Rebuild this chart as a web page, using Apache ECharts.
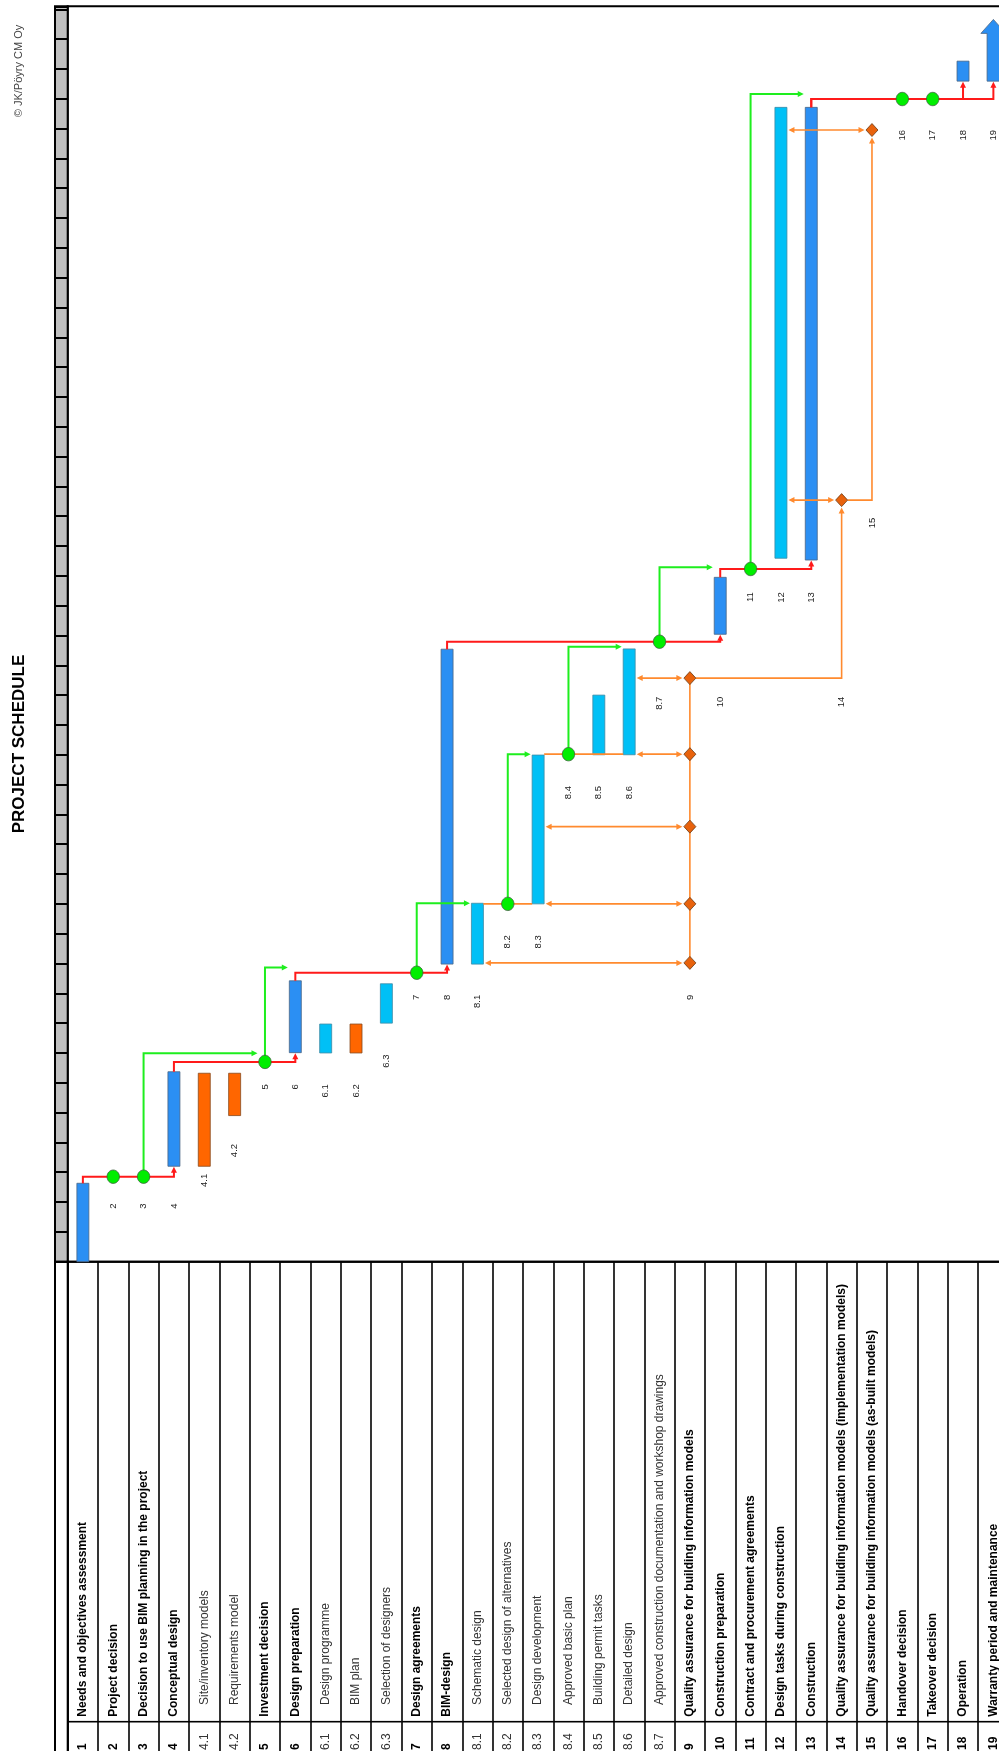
<!DOCTYPE html>
<html>
<head>
<meta charset="utf-8">
<script src="https://cdn.jsdelivr.net/npm/echarts/dist/echarts.min.js"></script>
<style>
html,body{margin:0;padding:0;overflow:hidden;background:#fff;width:999px;height:1751px;}
#c{position:absolute;left:0;top:0;width:1012px;height:1775px;}
</style>
</head>
<body>
<div id="c"></div>
<script>
// ---------- DATA ----------
const rowIds = ['1','2','3','4','4.1','4.2','5','6','6.1','6.2','6.3','7','8','8.1','8.2','8.3','8.4','8.5','8.6','8.7','9','10','11','12','13','14','15','16','17','18','19'];
const rowNames = ['Needs and objectives assessment','Project decision','Decision to use BIM planning in the project','Conceptual design','Site/inventory models','Requirements model','Investment decision','Design preparation','Design programme','BIM plan','Selection of designers','Design agreements','BIM-design','Schematic design','Selected design of alternatives','Design development','Approved basic plan','Building permit tasks','Detailed design','Approved construction documentation and workshop drawings','Quality assurance for building information models','Construction preparation','Contract and procurement agreements','Design tasks during construction','Construction','Quality assurance for building information models (implementation models)','Quality assurance for building information models (as-built models)','Handover decision','Takeover decision','Operation','Warranty period and maintenance'];

// task bars (time in schedule units, bottom = start)
const barRows  = ['1','4','4.1','4.2','6','6.1','6.2','6.3','8','8.1','8.3','8.5','8.6','10','12','13','18','19'];
const barStart = [0, 3.2, 3.2, 4.9, 7.01, 7.0, 7.0, 8.0, 9.98, 9.98, 12.0, 17.0, 17.0, 21.04, 23.59, 23.53, 39.59, 39.59];
const barEnd   = [2.63, 6.37, 6.32, 6.32, 9.42, 7.97, 7.97, 9.32, 20.54, 12.02, 16.99, 19.0, 20.55, 22.95, 38.71, 38.71, 40.26, 41.66];
const barKind  = ['phase','phase','model','model','phase','task','model','task','phase','task','task','task','task','phase','task','phase','phase','ongoing'];

// decision milestones
const milestoneRows  = ['2','3','5','7','8.2','8.4','8.7','11','16','17'];
const milestoneTimes = [2.85, 2.85, 6.70, 9.69, 12.0, 17.02, 20.79, 23.23, 38.99, 38.99];

// quality assurance checkpoints
const qaRows  = ['9','9','9','9','9','14','15'];
const qaTimes = [10.02, 12.0, 14.59, 17.02, 19.57, 25.54, 37.95];

// critical path (red)
const pathFrom  = ['1','4','6','8','10','13','13'];
const pathTo    = ['4','6','8','10','13','18','19'];
const pathLevel = [2.85, 6.70, 9.69, 20.79, 23.23, 38.99, 38.99];

// decision links (green)
const decisionFrom  = ['3','5','7','8.2','8.4','8.7','11'];
const decisionTo    = ['5','6','8.1','8.3','8.6','10','13'];
const decisionLevel = [6.99, 9.87, 12.02, 17.02, 20.62, 23.29, 39.16];

// QA review arrows (orange, double headed)
const reviewFrom = ['8.1','8.3','8.3','8.6','8.6','12','12'];
const reviewTo   = ['9','9','9','9','9','14','15'];
const reviewTime = [10.02, 12.0, 14.59, 17.02, 19.57, 25.54, 37.95];

// orange sequence lines
const seqFrom = ['8.1','8.3'];
const seqTo   = ['8.3','8.6'];
const seqTime = [12.0, 17.02];

// orange escalation links between QA checkpoints
const escFrom     = ['9','14'];
const escFromTime = [19.57, 25.54];
const escTo       = ['14','15'];
const escToTime   = [25.54, 37.95];

// chart labels (row id shown near its mark; time = top end of label)
const labelRows  = ['2','3','4','4.1','4.2','5','6','6.1','6.2','6.3','7','8','8.1','9','8.2','8.3','8.4','8.5','8.6','8.7','10','14','11','12','13','15','16','17','18','19'];
const labelTimes = [2,2,2,3,4,6,6,6,6,7,9,9,9,9,11,11,16,16,16,19,19,19,22.5,22.5,22.5,25,38,38,38,38];

const timeMax = 42.1;

// ---------- LAYOUT ----------
const ROW_W = 30.35, UNIT = 29.82;
const GX = 67.7, SX = 55, TABLE_TOP = 1261.7, TABLE_H = 500;
const GH = timeMax * UNIT, GTOP = TABLE_TOP - GH;
const FONT = '"Liberation Sans", Arial, Helvetica, sans-serif';
const BAR_W = 12;
const ri = id => rowIds.indexOf(id);

const FILL = {phase:'#2b8ff3', task:'#00c0f6', model:'#ff6600', ongoing:'#2b8ff3'};
const EDGE = {phase:'#4b6684', task:'#3c8aa4', model:'#874a1e', ongoing:'#4b6684'};
const RED = '#ff1a1a', GREEN = '#1eee1e', ORANGE = '#ff8a2e';

function tri(tip, dir, color, len, hw) {
  len = len || 6; hw = hw || 3;
  const [x, y] = tip; let pts;
  if (dir === 'up') pts = [[x, y], [x - hw, y + len], [x + hw, y + len]];
  else if (dir === 'right') pts = [[x, y], [x - len, y - hw], [x - len, y + hw]];
  else pts = [[x, y], [x + len, y - hw], [x + len, y + hw]];
  return {type: 'polygon', shape: {points: pts}, style: {fill: color}};
}
function line(pts, color, w) {
  return {type: 'polyline', shape: {points: pts}, style: {stroke: color, lineWidth: w || 2, fill: null}};
}
function txt(x, y, text, opt) {
  return {type: 'text', x: x, y: y, rotation: Math.PI / 2,
    style: {text: text, x: 0, y: 0, fill: opt.color, font: opt.font,
      align: opt.align, verticalAlign: 'middle', textAlign: opt.align, textVerticalAlign: 'middle'}};
}

// ---------- RENDERERS ----------
function renderBar(params, api) {
  const k = params.dataIndex;
  const b = api.coord([api.value(0), api.value(1)]);
  const t = api.coord([api.value(0), api.value(2)]);
  const kind = barKind[k];
  const cx = b[0], yb = b[1], yt = t[1];
  const st = {fill: FILL[kind], stroke: EDGE[kind], lineWidth: 0.8};
  if (kind === 'ongoing') {
    const headH = 14, bw = BAR_W / 2 + 0.3, hw = 12.5;
    return {type: 'polygon', shape: {points: [[cx - bw, yb], [cx - bw, yt + headH], [cx - hw, yt + headH], [cx, yt], [cx + hw, yt + headH], [cx + bw, yt + headH], [cx + bw, yb]]}, style: st};
  }
  return {type: 'rect', shape: {x: cx - BAR_W / 2, y: yt, width: BAR_W, height: yb - yt}, style: st};
}

function renderPath(params, api) {
  const i = params.dataIndex;
  const fb = barRows.indexOf(pathFrom[i]), tb = barRows.indexOf(pathTo[i]);
  const a = api.coord([ri(pathFrom[i]), barEnd[fb]]);
  const b = api.coord([ri(pathFrom[i]), pathLevel[i]]);
  const c = api.coord([ri(pathTo[i]), pathLevel[i]]);
  const d = api.coord([ri(pathTo[i]), barStart[tb]]);
  return {type: 'group', children: [
    line([a, b, c, [c[0], d[1] + 5]], RED, 2),
    tri([d[0], d[1] + 0.5], 'up', RED, 6, 3)
  ]};
}

function renderDecision(params, api) {
  const i = params.dataIndex;
  const m = milestoneRows.indexOf(decisionFrom[i]);
  const a = api.coord([ri(decisionFrom[i]), milestoneTimes[m]]);
  const b = api.coord([ri(decisionFrom[i]), decisionLevel[i]]);
  const c = api.coord([ri(decisionTo[i]), decisionLevel[i]]);
  const endX = c[0] - BAR_W / 2 - 1.5;
  return {type: 'group', children: [
    line([a, b, [endX - 5, b[1]]], GREEN, 2),
    tri([endX, b[1]], 'right', GREEN, 6, 3)
  ]};
}

function renderReview(params, api) {
  const i = params.dataIndex;
  const a = api.coord([ri(reviewFrom[i]), reviewTime[i]]);
  const b = api.coord([ri(reviewTo[i]), reviewTime[i]]);
  const x1 = a[0] + BAR_W / 2 + 1.5, x2 = b[0] - 7.5;
  return {type: 'group', children: [
    line([[x1 + 4, a[1]], [x2 - 4, a[1]]], ORANGE, 1.6),
    tri([x1, a[1]], 'left', ORANGE, 6, 3),
    tri([x2, a[1]], 'right', ORANGE, 6, 3)
  ]};
}

function renderSeq(params, api) {
  const i = params.dataIndex;
  const a = api.coord([ri(seqFrom[i]), seqTime[i]]);
  const b = api.coord([ri(seqTo[i]), seqTime[i]]);
  return line([[a[0] + BAR_W / 2, a[1]], [b[0] - BAR_W / 2, b[1]]], ORANGE, 1.6);
}

function renderSpine(params, api) {
  const row = api.value(0);
  const id = rowIds[row];
  const ts = qaTimes.filter((t, k) => qaRows[k] === id);
  const a = api.coord([row, Math.min.apply(null, ts)]);
  const b = api.coord([row, Math.max.apply(null, ts)]);
  return line([a, b], ORANGE, 1.6);
}

function renderEsc(params, api) {
  const i = params.dataIndex;
  const a = api.coord([ri(escFrom[i]), escFromTime[i]]);
  const c = api.coord([ri(escTo[i]), escToTime[i]]);
  const tipY = c[1] + 7.5;
  return {type: 'group', children: [
    line([[a[0] + 6, a[1]], [c[0], a[1]], [c[0], tipY + 5]], ORANGE, 1.6),
    tri([c[0], tipY], 'up', ORANGE, 6, 3)
  ]};
}

function renderMilestone(params, api) {
  const p = api.coord([api.value(0), api.value(1)]);
  return {type: 'ellipse', shape: {cx: p[0], cy: p[1], rx: 6.2, ry: 6.7},
    style: {fill: '#00ee00', stroke: '#3f5f3f', lineWidth: 0.8}};
}

function renderQa(params, api) {
  const p = api.coord([api.value(0), api.value(1)]);
  const w = 6, h = 6.5;
  return {type: 'polygon', shape: {points: [[p[0], p[1] - h], [p[0] + w, p[1]], [p[0], p[1] + h], [p[0] - w, p[1]]]},
    style: {fill: '#e8620c', stroke: '#6a3a14', lineWidth: 0.8}};
}

function renderLabel(params, api) {
  const i = params.dataIndex;
  const p = api.coord([api.value(0), api.value(1)]);
  return txt(p[0], p[1] + 1.5, labelRows[i], {color: '#222', font: '9.5px ' + FONT, align: 'right'});
}

function renderTable(params, api) {
  const i = api.value(0);
  const id = rowIds[i];
  const bold = id.indexOf('.') < 0;
  const half = api.size([1, 0])[0] / 2;
  const xc = api.coord([i, 0])[0];
  const yName = api.coord([i, bold ? 455 : 443.3])[1];
  const yDiv = api.coord([i, 460])[1];
  const yNum = api.coord([i, 488.3])[1];
  const f = (bold ? 'bold ' : '') + '12px ' + FONT;
  return {type: 'group', children: [
    {type: 'line', shape: {x1: xc - half, y1: yDiv, x2: xc + half, y2: yDiv}, style: {stroke: '#000', lineWidth: 1.6}},
    txt(xc, yName, rowNames[i], {color: bold ? '#000' : '#333', font: f, align: 'left'}),
    txt(xc, yNum, id, {color: bold ? '#000' : '#333', font: f, align: 'left'})
  ]};
}

// ---------- CHART ----------
const chart = echarts.init(document.getElementById('c'), null, {renderer: 'canvas'});
const hiddenVal = (g, extra) => Object.assign({gridIndex: g, type: 'value', show: false, min: 0, max: 1}, extra || {});
const gantt = (name, data, fn, z) => ({type: 'custom', name: name, xAxisIndex: 0, yAxisIndex: 0, data: data,
  renderItem: fn, z: z, silent: true, animation: false, encode: {x: 0, y: 1}});

chart.setOption({
  animation: false,
  backgroundColor: '#fff',
  grid: [
    {left: GX, top: GTOP, width: ROW_W * rowIds.length, height: GH, show: true, borderColor: '#000', borderWidth: 2, backgroundColor: 'transparent'},
    {left: SX, top: GTOP, width: GX - SX, height: GH, show: true, borderColor: '#000', borderWidth: 2, backgroundColor: '#c0c0c0'},
    {left: GX, top: TABLE_TOP, width: ROW_W * rowIds.length, height: TABLE_H, show: true, borderColor: '#000', borderWidth: 2, backgroundColor: 'transparent'},
    {left: SX, top: TABLE_TOP, width: GX - SX, height: TABLE_H, show: true, borderColor: '#000', borderWidth: 2, backgroundColor: '#fff'}
  ],
  xAxis: [
    {gridIndex: 0, type: 'category', data: rowIds, show: false, boundaryGap: true},
    hiddenVal(1),
    {gridIndex: 2, type: 'category', data: rowIds, boundaryGap: true, axisLine: {show: false}, axisTick: {show: false}, axisLabel: {show: false},
      splitLine: {show: true, interval: 0, lineStyle: {color: '#000', width: 1.6}}},
    hiddenVal(3)
  ],
  yAxis: [
    {gridIndex: 0, type: 'value', min: 0, max: timeMax, show: false},
    {gridIndex: 1, type: 'value', min: 0, max: timeMax, interval: 1, axisLine: {show: false}, axisTick: {show: false}, axisLabel: {show: false},
      splitLine: {show: true, lineStyle: {color: '#000', width: 2}}},
    {gridIndex: 2, type: 'value', min: 0, max: TABLE_H, inverse: true, show: false},
    hiddenVal(3)
  ],
  graphic: [
    {type: 'text', x: 19, y: 744, rotation: Math.PI / 2, silent: true,
      style: {text: 'PROJECT SCHEDULE', fill: '#000', font: 'bold 17px ' + FONT, align: 'center', verticalAlign: 'middle', textAlign: 'center', textVerticalAlign: 'middle'}},
    {type: 'text', x: 19, y: 71, rotation: Math.PI / 2, silent: true,
      style: {text: '© JK/Pöyry CM Oy', fill: '#444', font: '11px ' + FONT, align: 'center', verticalAlign: 'middle', textAlign: 'center', textVerticalAlign: 'middle'}}
  ],
  series: [
    gantt('bars', barRows.map((r, i) => [ri(r), barStart[i], barEnd[i]]), renderBar, 3),
    gantt('qaSeq', seqFrom.map((r, i) => [ri(r), seqTime[i]]), renderSeq, 4),
    gantt('qaSpine', [[ri('9'), qaTimes[0]]], renderSpine, 4),
    gantt('qaReview', reviewFrom.map((r, i) => [ri(r), reviewTime[i]]), renderReview, 4),
    gantt('qaEscalation', escFrom.map((r, i) => [ri(r), escFromTime[i]]), renderEsc, 4),
    gantt('decision', decisionFrom.map((r, i) => [ri(r), decisionLevel[i]]), renderDecision, 4),
    gantt('criticalPath', pathFrom.map((r, i) => [ri(r), pathLevel[i]]), renderPath, 4),
    gantt('milestones', milestoneRows.map((r, i) => [ri(r), milestoneTimes[i]]), renderMilestone, 5),
    gantt('qa', qaRows.map((r, i) => [ri(r), qaTimes[i]]), renderQa, 5),
    gantt('labels', labelRows.map((r, i) => [ri(r), labelTimes[i]]), renderLabel, 6),
    {type: 'custom', name: 'table', xAxisIndex: 2, yAxisIndex: 2, silent: true, z: 6,
      data: rowIds.map((r, i) => [i, 0]), encode: {x: 0, y: 1}, renderItem: renderTable}
  ]
});
</script>
</body>
</html>
